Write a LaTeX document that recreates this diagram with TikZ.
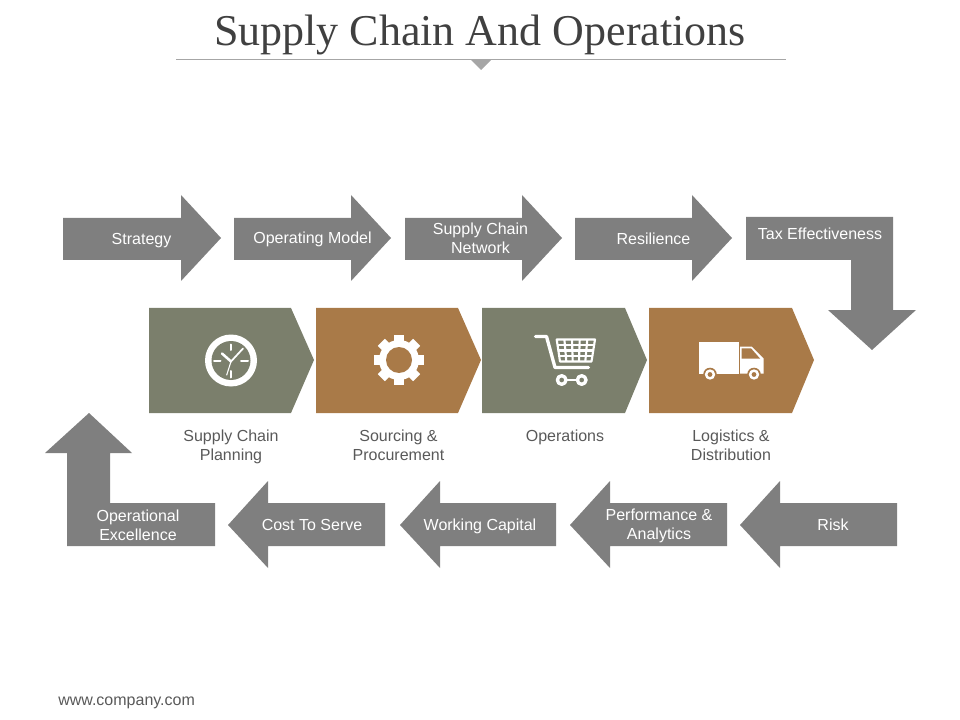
\documentclass[tikz,border=0pt]{standalone}
\usepackage{fontspec}
\setmainfont{Liberation Sans}
\newfontfamily\titlefont{Liberation Serif}
\definecolor{arrowgray}{HTML}{7F7F7F}
\definecolor{olivebox}{HTML}{7B7F6C}
\definecolor{brownbox}{HTML}{A97A48}
\definecolor{captiongray}{HTML}{595959}
\definecolor{titlegray}{HTML}{404040}
\tikzset{
  arrowshape/.style={fill=arrowgray},
  arrowtext/.style={text=white, align=center, font=\fontsize{12}{14.3}\selectfont},
  captiontext/.style={text=captiongray, align=center, font=\fontsize{12}{14.3}\selectfont},
  icon/.style={fill=white},
  iconline/.style={draw=white, line cap=round, line join=round},
  gridline/.style={draw=white, line width=1.6pt}
}
\begin{document}
\begin{tikzpicture}[x=0.75pt, y=-0.75pt]
  \useasboundingbox (0,0) rectangle (960,720);

  % Title
  \node[text=titlegray, font=\titlefont\fontsize{33}{38}\selectfont] (title) at (480,35) {Supply Chain And Operations};
  \draw[draw=black!35] (176,59.5) -- (786,59.5);
  \fill[black!35] (471,60) -- (491,60) -- (481,70) -- cycle;

  % Top row of arrows
  \fill[arrowshape] (63,218) -- (181,218) -- (181,195) -- (221,238) -- (181,281) -- (181,260) -- (63,260) -- cycle;
  \fill[arrowshape] (234,218) -- (351,218) -- (351,195) -- (391,238) -- (351,281) -- (351,260) -- (234,260) -- cycle;
  \fill[arrowshape] (405,218) -- (522,218) -- (522,195) -- (562,238) -- (522,281) -- (522,260) -- (405,260) -- cycle;
  \fill[arrowshape] (575,218) -- (692,218) -- (692,195) -- (732,238) -- (692,281) -- (692,260) -- (575,260) -- cycle;
  \node[arrowtext] (strategy) at (141.5,241) {Strategy};
  \node[arrowtext] (model) at (312.5,239) {Operating Model};
  \node[arrowtext] (network) at (480.5,238.5) {Supply Chain\\Network};
  \node[arrowtext] (resilience) at (653.5,239) {Resilience};

  % Bent arrow going down
  \fill[arrowshape] (746,217) -- (893,217) -- (893,310) -- (916,310) -- (872,350) -- (828,310) -- (851,310) -- (851,260) -- (746,260) -- cycle;
  \node[arrowtext] (tax) at (820,234) {Tax Effectiveness};

  % Chevrons
  \fill[olivebox] (149,308) -- (291,308) -- (314,360) -- (291,413) -- (149,413) -- cycle;
  \fill[brownbox] (316,308) -- (458,308) -- (481,360) -- (458,413) -- (316,413) -- cycle;
  \fill[olivebox] (482,308) -- (625,308) -- (647,360) -- (625,413) -- (482,413) -- cycle;
  \fill[brownbox] (649,308) -- (792,308) -- (814,360) -- (792,413) -- (649,413) -- cycle;

  % Clock
  \fill[icon] (231,360.5) circle (26);
  \fill[olivebox] (231,360.5) circle (19.5);
  \draw[iconline, line width=1.5pt] (231,344.5) -- (231,350);
  \draw[iconline, line width=1.5pt] (231,371) -- (231,377.5);
  \draw[iconline, line width=1.5pt] (214,360.5) -- (220.5,360.5);
  \draw[iconline, line width=1.5pt] (241,360.5) -- (248,360.5);
  \draw[iconline, line width=1.9pt] (222,353.5) -- (231,361.5);
  \draw[iconline, line width=1.3pt] (231,361.5) -- (243,348.5);
  \draw[iconline, line width=0.8pt] (231,361.5) -- (226.7,375);

  % Gear
  \draw[white, line width=7.5pt] (374,360) -- (424,360);
  \draw[white, line width=7.5pt] (399,335) -- (399,385);
  \draw[white, line width=7.5pt] (381.3,342.3) -- (416.7,377.7);
  \draw[white, line width=7.5pt] (381.3,377.7) -- (416.7,342.3);
  \fill[icon] (399,360) circle (20);
  \fill[brownbox] (399,360) circle (13);

  % Cart
  \draw[iconline, line width=2.5pt] (535.5,336.5) -- (546.5,336.5) -- (555,367.5) -- (588.5,367.5);
  \draw[gridline, line join=round] (556.7,339.5) -- (595,339.5) -- (591.5,361.5) -- (560,361.5) -- cycle;
  \draw[gridline] (557.6,345) -- (594.1,345);
  \draw[gridline] (558.4,350.5) -- (593.3,350.5);
  \draw[gridline] (559.2,356) -- (592.4,356);
  \draw[gridline] (564.4,339.5) -- (566.3,361.5);
  \draw[gridline] (572,339.5) -- (572.7,361.5);
  \draw[gridline] (579.7,339.5) -- (579,361.5);
  \draw[gridline] (587.3,339.5) -- (585.3,361.5);
  \draw[iconline, line width=2pt] (566,380) -- (578,380);
  \draw[iconline, line width=2.5pt] (561.7,380) circle (4.3);
  \draw[iconline, line width=2.5pt] (581.7,380) circle (4.3);

  % Truck
  \fill[icon] (698.5,342) rectangle (739,373.5);
  \fill[icon] (740,346.5) -- (751.7,346.5) -- (763.5,358.5) -- (763.5,373.5) -- (740,373.5) -- cycle;
  \fill[brownbox] (741.7,348.3) -- (751,348.3) -- (760,358.5) -- (741.7,358.5) -- cycle;
  \fill[brownbox] (710,374.5) circle (6.8);
  \fill[icon] (710,374.5) circle (5.2);
  \fill[brownbox] (710,374.5) circle (2.4);
  \fill[brownbox] (754,374.5) circle (6.8);
  \fill[icon] (754,374.5) circle (5.2);
  \fill[brownbox] (754,374.5) circle (2.4);

  % Captions
  \node[captiontext] (planning) at (231,447) {Supply Chain\\Planning};
  \node[captiontext] (sourcing) at (398.5,445) {Sourcing \&\\Procurement};
  \node[captiontext] (operations) at (565,437) {Operations};
  \node[captiontext] (logistics) at (731,445) {Logistics \&\\Distribution};

  % Bottom row of arrows
  \fill[arrowshape] (897,503) -- (780,503) -- (780,481) -- (740,525) -- (780,568) -- (780,546) -- (897,546) -- cycle;
  \fill[arrowshape] (727,503) -- (610,503) -- (610,481) -- (570,525) -- (610,568) -- (610,546) -- (727,546) -- cycle;
  \fill[arrowshape] (556,503) -- (440,503) -- (440,481) -- (400,525) -- (440,568) -- (440,546) -- (556,546) -- cycle;
  \fill[arrowshape] (385,503) -- (268,503) -- (268,481) -- (228,525) -- (268,568) -- (268,546) -- (385,546) -- cycle;
  \node[arrowtext] (risk) at (833,525) {Risk};
  \node[arrowtext] (analytics) at (659,526) {Performance \&\\Analytics};
  \node[arrowtext] (capital) at (480,526) {Working Capital};
  \node[arrowtext] (serve) at (312,525) {Cost To Serve};

  % Bent arrow going up
  \fill[arrowshape] (215,503) -- (110,503) -- (110,453) -- (132,453) -- (89,413) -- (45,453) -- (67,453) -- (67,546) -- (215,546) -- cycle;
  \node[arrowtext] (excellence) at (138,525) {Operational\\Excellence};

  % Footer
  \node[captiontext, anchor=west, inner sep=0pt] (footer) at (58,702.5) {www.company.com};
\end{tikzpicture}
\end{document}
